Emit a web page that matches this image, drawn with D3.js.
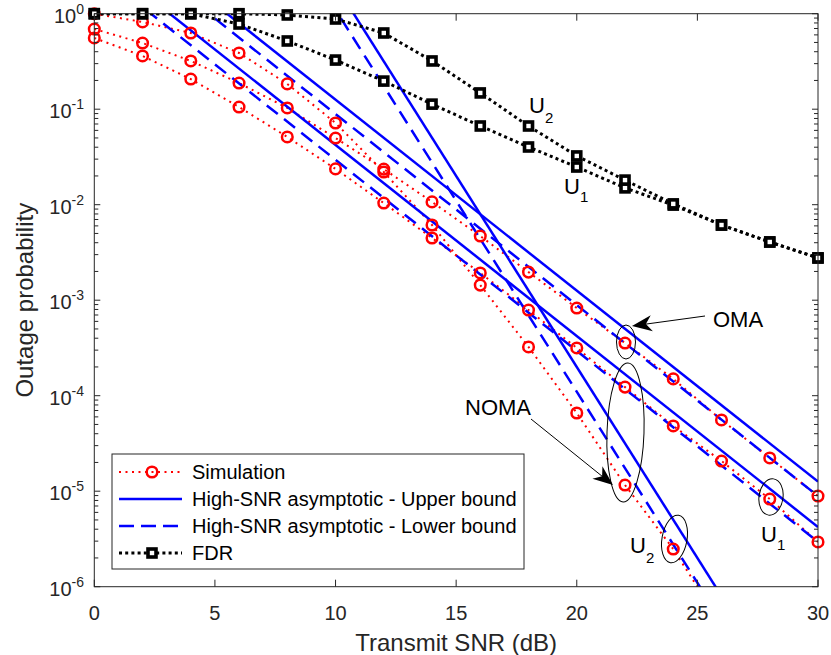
<!DOCTYPE html>
<html><head><meta charset="utf-8">
<script src="https://cdn.jsdelivr.net/npm/d3@7"></script>
<style>body{margin:0;background:#fff}</style>
</head><body>
<svg id="chart" width="831" height="655"></svg>
<script>
// ---------------- data ----------------
const snr = [0,2,4,6,8,10,12,14,16,18,20,22,24,26,28,30];
// Simulation curves
const simOMA   = [0.691,0.493,0.320,0.188,0.103,0.0499,0.0236,0.0107,0.0047,0.00197,0.000828,0.000356,0.000150,5.57e-5,2.23e-5,8.9e-6];
const simNOMA1 = [0.557,0.361,0.207,0.1054,0.0512,0.0237,0.0104,0.00448,0.00193,0.000789,0.000316,0.000123,4.82e-5,2.07e-5,8.28e-6,2.94e-6];
const snrNOMA2 = [0,2,4,6,8,10,12,14,16,18,20,22,24,26];
const simNOMA2 = [1.0,0.819,0.628,0.388,0.184,0.0717,0.022,0.00613,0.00144,0.000324,6.59e-5,1.16e-5,2.48e-6,4.0e-7];
// FDR curves
const fdrU1 = [1.0,1.0,1.0,0.78,0.518,0.327,0.197,0.113,0.0667,0.0402,0.0248,0.0150,0.0099,0.00613,0.00407,0.00277];
const fdrU2 = [1.0,1.0,1.0,1.0,0.97,0.88,0.628,0.32,0.148,0.0667,0.0324,0.0181,0.0102,0.00613,0.00407,0.00277];
// High-SNR asymptotes (values at SNR 0 and 30 dB; straight on log axis)
const asymSNR = [0,30];
const upperOMA   = [12.6, 1.26e-5];
const lowerOMA   = [8.9, 8.9e-6];
const upperNOMA1 = [4.22, 4.22e-6];
const lowerNOMA1 = [2.95, 2.95e-6];
const upperNOMA2 = [2.0e4, 2.0e-8];
const lowerNOMA2 = [1.1e4, 1.1e-8];
// ticks
const xTicks = [0,5,10,15,20,25,30];
const yTickExp = [0,-1,-2,-3,-4,-5,-6];
const legendLabels = ["Simulation","High-SNR asymptotic - Upper bound","High-SNR asymptotic - Lower bound","FDR"];

// ---------------- layout ----------------
const FONT = "'Liberation Sans', Arial, Helvetica, sans-serif";
const AX = "#262626";
const L = 94.3, R = 818, T = 13.7, B = 586.7;
const x = d3.scaleLinear().domain([0,30]).range([L,R]);
const y = d3.scaleLog().domain([1e-6,1]).range([B,T]);

const svg = d3.select("#chart");
svg.append("rect").attr("width",831).attr("height",655).attr("fill","#fff");
svg.append("defs").append("clipPath").attr("id","clip")
  .append("rect").attr("x",L).attr("y",T).attr("width",R-L).attr("height",B-T);

const plot = svg.append("g");
const clipped = plot.append("g").attr("clip-path","url(#clip)");
const line = d3.line().x(d=>x(d[0])).y(d=>y(d[1]));
const zip = (a,b)=>a.map((v,i)=>[v,b[i]]);

// simulation lines
const simStyle = {stroke:"#ff0000", width:2, dash:"2,4.5"};
[[snr,simOMA],[snr,simNOMA1],[snrNOMA2,simNOMA2]].forEach(([xs,vs])=>{
  clipped.append("path").datum(zip(xs,vs)).attr("d",line)
    .attr("fill","none").attr("stroke",simStyle.stroke).attr("stroke-width",simStyle.width)
    .attr("stroke-dasharray",simStyle.dash);
});
// markers for simulation
const markers = plot.append("g");
[[snr,simOMA],[snr,simNOMA1],[snrNOMA2,simNOMA2]].forEach(([xs,vs])=>{
  markers.selectAll(null).data(zip(xs,vs).filter(d=>d[1]>=1e-6)).enter().append("circle")
    .attr("cx",d=>x(d[0])).attr("cy",d=>y(d[1])).attr("r",5.3)
    .attr("fill","none").attr("stroke","#ff0000").attr("stroke-width",2.5);
});
// asymptotes
[upperOMA,upperNOMA1,upperNOMA2].forEach(vs=>{
  clipped.append("path").datum(zip(asymSNR,vs)).attr("d",line)
    .attr("fill","none").attr("stroke","#0000ff").attr("stroke-width",2.5);
});
[lowerOMA,lowerNOMA1,lowerNOMA2].forEach(vs=>{
  clipped.append("path").datum(zip(asymSNR,vs)).attr("d",line)
    .attr("fill","none").attr("stroke","#0000ff").attr("stroke-width",2.5)
    .attr("stroke-dasharray","14,8");
});
// FDR
const fdrG = plot.append("g");
[fdrU1,fdrU2].forEach(vs=>{
  clipped.append("path").datum(zip(snr,vs)).attr("d",line)
    .attr("fill","none").attr("stroke","#000").attr("stroke-width",3)
    .attr("stroke-dasharray","3,3.2");
});
[fdrU1,fdrU2].forEach(vs=>{
  fdrG.selectAll(null).data(zip(snr,vs)).enter().append("rect")
    .attr("x",d=>x(d[0])-4).attr("y",d=>y(d[1])-4).attr("width",8).attr("height",8)
    .attr("fill","#fff").attr("stroke","#000").attr("stroke-width",3.6);
});

// ---------------- axes ----------------
const ax = svg.append("g").attr("stroke",AX).attr("stroke-width",1).attr("fill","none");
ax.append("rect").attr("x",L).attr("y",T).attr("width",R-L).attr("height",B-T);
xTicks.forEach(t=>{
  ax.append("line").attr("x1",x(t)).attr("x2",x(t)).attr("y1",B).attr("y2",B-7);
  ax.append("line").attr("x1",x(t)).attr("x2",x(t)).attr("y1",T).attr("y2",T+7);
});
yTickExp.forEach(e=>{
  const v = Math.pow(10,e);
  ax.append("line").attr("x1",L).attr("x2",L+6).attr("y1",y(v)).attr("y2",y(v));
  ax.append("line").attr("x1",R).attr("x2",R-6).attr("y1",y(v)).attr("y2",y(v));
  if (e<0) for (let m=2;m<=9;m++){
    const vv = m*v;
    ax.append("line").attr("x1",L).attr("x2",L+4).attr("y1",y(vv)).attr("y2",y(vv));
    ax.append("line").attr("x1",R).attr("x2",R-4).attr("y1",y(vv)).attr("y2",y(vv));
  }
});
const txt = svg.append("g").attr("font-family",FONT).attr("fill",AX);
xTicks.forEach(t=>{
  txt.append("text").attr("x",x(t)).attr("y",620).attr("text-anchor","middle")
    .attr("font-size",20).text(t);
});
yTickExp.forEach(e=>{
  const t = txt.append("text").attr("x",84).attr("y",y(Math.pow(10,e))+9)
    .attr("text-anchor","end").attr("font-size",20);
  t.append("tspan").text("10");
  t.append("tspan").attr("font-size",14).attr("dy",-9).text(e===0?"0":String(e));
});
txt.append("text").attr("x",(L+R)/2).attr("y",651).attr("text-anchor","middle")
  .attr("font-size",24).text("Transmit SNR (dB)");
txt.append("text").attr("transform",`translate(33,${(T+B)/2}) rotate(-90)`)
  .attr("text-anchor","middle").attr("font-size",24).text("Outage probability");

// ---------------- annotations ----------------
const ann = svg.append("g").attr("font-family",FONT);
function sub(xp,yp,main,s,dy){
  const t = ann.append("text").attr("x",xp).attr("y",yp).attr("font-size",22).attr("fill","#000");
  t.append("tspan").text(main);
  t.append("tspan").attr("font-size",15).attr("dy",dy).text(s);
}
sub(529,113,"U","2",10);
sub(564,194,"U","1",8);
sub(761,542,"U","1",8);
sub(630,553,"U","2",10);
ann.append("text").attr("x",713).attr("y",327).attr("font-size",22).attr("fill","#000").text("OMA");
ann.append("text").attr("x",465).attr("y",415).attr("font-size",22).attr("fill","#000").text("NOMA");
function ell(cx,cy,rx,ry,rot){
  ann.append("ellipse").attr("cx",0).attr("cy",0).attr("rx",rx).attr("ry",ry)
    .attr("transform",`translate(${cx},${cy}) rotate(${rot})`)
    .attr("fill","none").attr("stroke","#000").attr("stroke-width",1);
}
ell(626,342,9.5,17,0);
ell(625.5,432.5,18.5,69.5,2);
ell(771,497,12,18.3,8);
ell(674.5,539,12.5,24,10);
function arrow(sx,sy,tx,ty){
  const dx=tx-sx, dy=ty-sy, len=Math.hypot(dx,dy), ux=dx/len, uy=dy/len, px=-uy, py=ux;
  const hl=20, hw=8, notch=14;
  const bx=tx-ux*hl, by=ty-uy*hl, nx=tx-ux*notch, ny=ty-uy*notch;
  ann.append("line").attr("x1",sx).attr("y1",sy).attr("x2",nx).attr("y2",ny)
    .attr("stroke","#000").attr("stroke-width",1);
  ann.append("path").attr("d",`M${tx},${ty}L${bx+px*hw},${by+py*hw}L${nx},${ny}L${bx-px*hw},${by-py*hw}Z`)
    .attr("fill","#000");
}
arrow(705,316,632,326);
arrow(531,419,613,485);

// ---------------- legend ----------------
const lg = svg.append("g").attr("font-family",FONT);
lg.append("rect").attr("x",112).attr("y",454).attr("width",412).attr("height",115)
  .attr("fill","#fff").attr("stroke",AX).attr("stroke-width",1);
const ly = [472,499,526,553];
lg.append("line").attr("x1",119).attr("x2",182).attr("y1",ly[0]).attr("y2",ly[0])
  .attr("stroke","#ff0000").attr("stroke-width",2).attr("stroke-dasharray","2,4.5");
lg.append("circle").attr("cx",152).attr("cy",ly[0]).attr("r",5.3).attr("fill","none")
  .attr("stroke","#ff0000").attr("stroke-width",2.5);
lg.append("line").attr("x1",119).attr("x2",182).attr("y1",ly[1]).attr("y2",ly[1])
  .attr("stroke","#0000ff").attr("stroke-width",2.5);
lg.append("line").attr("x1",119).attr("x2",182).attr("y1",ly[2]).attr("y2",ly[2])
  .attr("stroke","#0000ff").attr("stroke-width",2.5).attr("stroke-dasharray","15,7");
lg.append("line").attr("x1",119).attr("x2",182).attr("y1",ly[3]).attr("y2",ly[3])
  .attr("stroke","#000").attr("stroke-width",3).attr("stroke-dasharray","3,3.2");
lg.append("rect").attr("x",152-4).attr("y",ly[3]-4).attr("width",8).attr("height",8)
  .attr("fill","#fff").attr("stroke","#000").attr("stroke-width",3.6);
legendLabels.forEach((s,i)=>{
  lg.append("text").attr("x",192).attr("y",ly[i]+7).attr("font-size",20).attr("fill","#000").text(s);
});
</script>
</body></html>
